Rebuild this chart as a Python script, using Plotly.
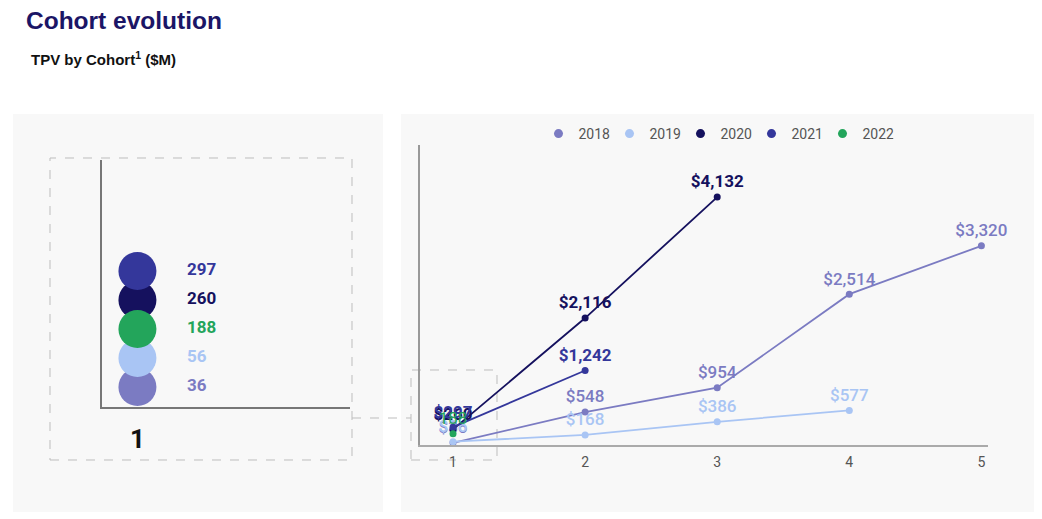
import plotly.graph_objects as go

# TPV by cohort ($M), by period since cohort start
periods = [1, 2, 3, 4, 5]
cohorts = ["2018", "2019", "2020", "2021", "2022"]
tpv_2018 = [36, 548, 954, 2514, 3320]
tpv_2019 = [56, 168, 386, 577]
tpv_2020 = [260, 2116, 4132]
tpv_2021 = [297, 1242]
tpv_2022 = [188]

series = [tpv_2018, tpv_2019, tpv_2020, tpv_2021, tpv_2022]
colors = ["#7b7bc2", "#a9c5f4", "#15115e", "#34379b", "#23a55b"]
weights = [500, 500, "bold", "bold", "normal"]

# page has an 8px body margin, so the figure is laid out in page pixels
OFF = 8
W, H = 1042 - OFF, 519 - OFF


def px(x):
    return (x - OFF) / W


def py(y):
    return (H - (y - OFF)) / H


fig = go.Figure()

# main chart
for name, vals, col, wt in zip(cohorts, series, colors, weights):
    labels = [("$" if name != "2022" else "") + f"{v:,}" for v in vals]
    fig.add_trace(go.Scatter(
        x=periods[:len(vals)], y=vals, mode="lines+markers+text",
        name=name, showlegend=False,
        line=dict(color=col, width=1.8),
        marker=dict(color=col, size=7),
        text=labels, textposition="top center",
        textfont=dict(family="Roboto", size=17, color=col, weight=wt),
        cliponaxis=False,
        xaxis="x", yaxis="y",
    ))

# legend entries (dots only)
for name, col in zip(cohorts, colors):
    fig.add_trace(go.Scatter(
        x=[None], y=[None], mode="markers", name=name,
        marker=dict(color=col, size=9), xaxis="x", yaxis="y",
    ))

# zoomed inset of period 1
first = [s[0] for s in series]
for name, v, col in zip(cohorts, first, colors):
    fig.add_trace(go.Scatter(
        x=[1], y=[str(v)], mode="markers", showlegend=False,
        marker=dict(color=col, size=38), cliponaxis=False,
        xaxis="x2", yaxis="y2",
    ))
    fig.add_trace(go.Scatter(
        x=[2.4], y=[str(v)], mode="text", showlegend=False,
        text=[f"{v:,}"], textposition="middle right",
        textfont=dict(family="Roboto", size=17, color=col, weight="bold"),
        cliponaxis=False, xaxis="x2", yaxis="y2",
    ))

dash_line = dict(color="#bdbdbd", width=1, dash="dash")
shapes = [
    # panel backgrounds
    dict(type="rect", xref="paper", yref="paper", layer="below",
         x0=px(13), x1=px(383), y0=py(512), y1=py(114),
         fillcolor="#f8f8f8", line=dict(width=0)),
    dict(type="rect", xref="paper", yref="paper", layer="below",
         x0=px(401), x1=px(1038), y0=py(512), y1=py(114),
         fillcolor="#f8f8f8", line=dict(width=0)),
    # zoom boxes and connector
    dict(type="rect", xref="paper", yref="paper", layer="below",
         x0=px(50), x1=px(352), y0=py(460), y1=py(158), line=dash_line),
    dict(type="rect", xref="paper", yref="paper", layer="below",
         x0=px(411), x1=px(497), y0=py(460), y1=py(370), line=dash_line),
    dict(type="line", xref="paper", yref="paper", layer="below",
         x0=px(352), x1=px(411), y0=py(418), y1=py(418), line=dash_line),
]

fig.update_layout(
    width=W, height=H,
    margin=dict(l=0, r=0, t=0, b=0),
    paper_bgcolor="white", plot_bgcolor="rgba(0,0,0,0)",
    font=dict(family="Roboto", color="#444"),
    shapes=shapes,
    xaxis=dict(domain=[px(420), px(988)], range=[0.75, 5.05],
               tickvals=periods, showgrid=False, zeroline=False,
               showline=True, linecolor="#aaaaaa", linewidth=2,
               ticklabelstandoff=3,
               tickfont=dict(size=14, color="#555")),
    yaxis=dict(domain=[py(445), py(145)], range=[0, 5000],
               showticklabels=False, showgrid=False, zeroline=False,
               showline=True, linecolor="#999999", linewidth=2),
    xaxis2=dict(domain=[px(102), px(350)], range=[0, 7], anchor="y2",
                tickvals=[1], showgrid=False, zeroline=False,
                showline=True, linecolor="#777777", linewidth=2,
                ticks="", ticklabelstandoff=8,
                tickfont=dict(size=26, color="#111", weight="bold")),
    yaxis2=dict(domain=[py(407), py(160)], anchor="x2", type="category",
                categoryorder="array",
                categoryarray=[str(v) for v in sorted(first)],
                range=[-0.69, 7.83], showticklabels=False,
                showgrid=False, zeroline=False,
                showline=True, linecolor="#777777", linewidth=2),
    legend=dict(orientation="h", x=px(716), xanchor="center",
                y=py(134), yanchor="middle", bgcolor="rgba(0,0,0,0)",
                font=dict(size=14, color="#555"), entrywidth=26),
    annotations=[
        dict(text="<b>Cohort evolution</b>", xref="paper", yref="paper",
             x=px(24), y=py(20), xanchor="left", yanchor="middle",
             showarrow=False,
             font=dict(family="Liberation Sans", size=24.5,
                       color="#1b1566")),
        dict(text="<b>TPV by Cohort<sup>1</sup> ($M)</b>", xref="paper",
             yref="paper", x=px(29), y=py(58), xanchor="left",
             yanchor="middle", showarrow=False,
             font=dict(family="Liberation Sans", size=15, color="#111")),
    ],
)

fig.write_html("out.html")
